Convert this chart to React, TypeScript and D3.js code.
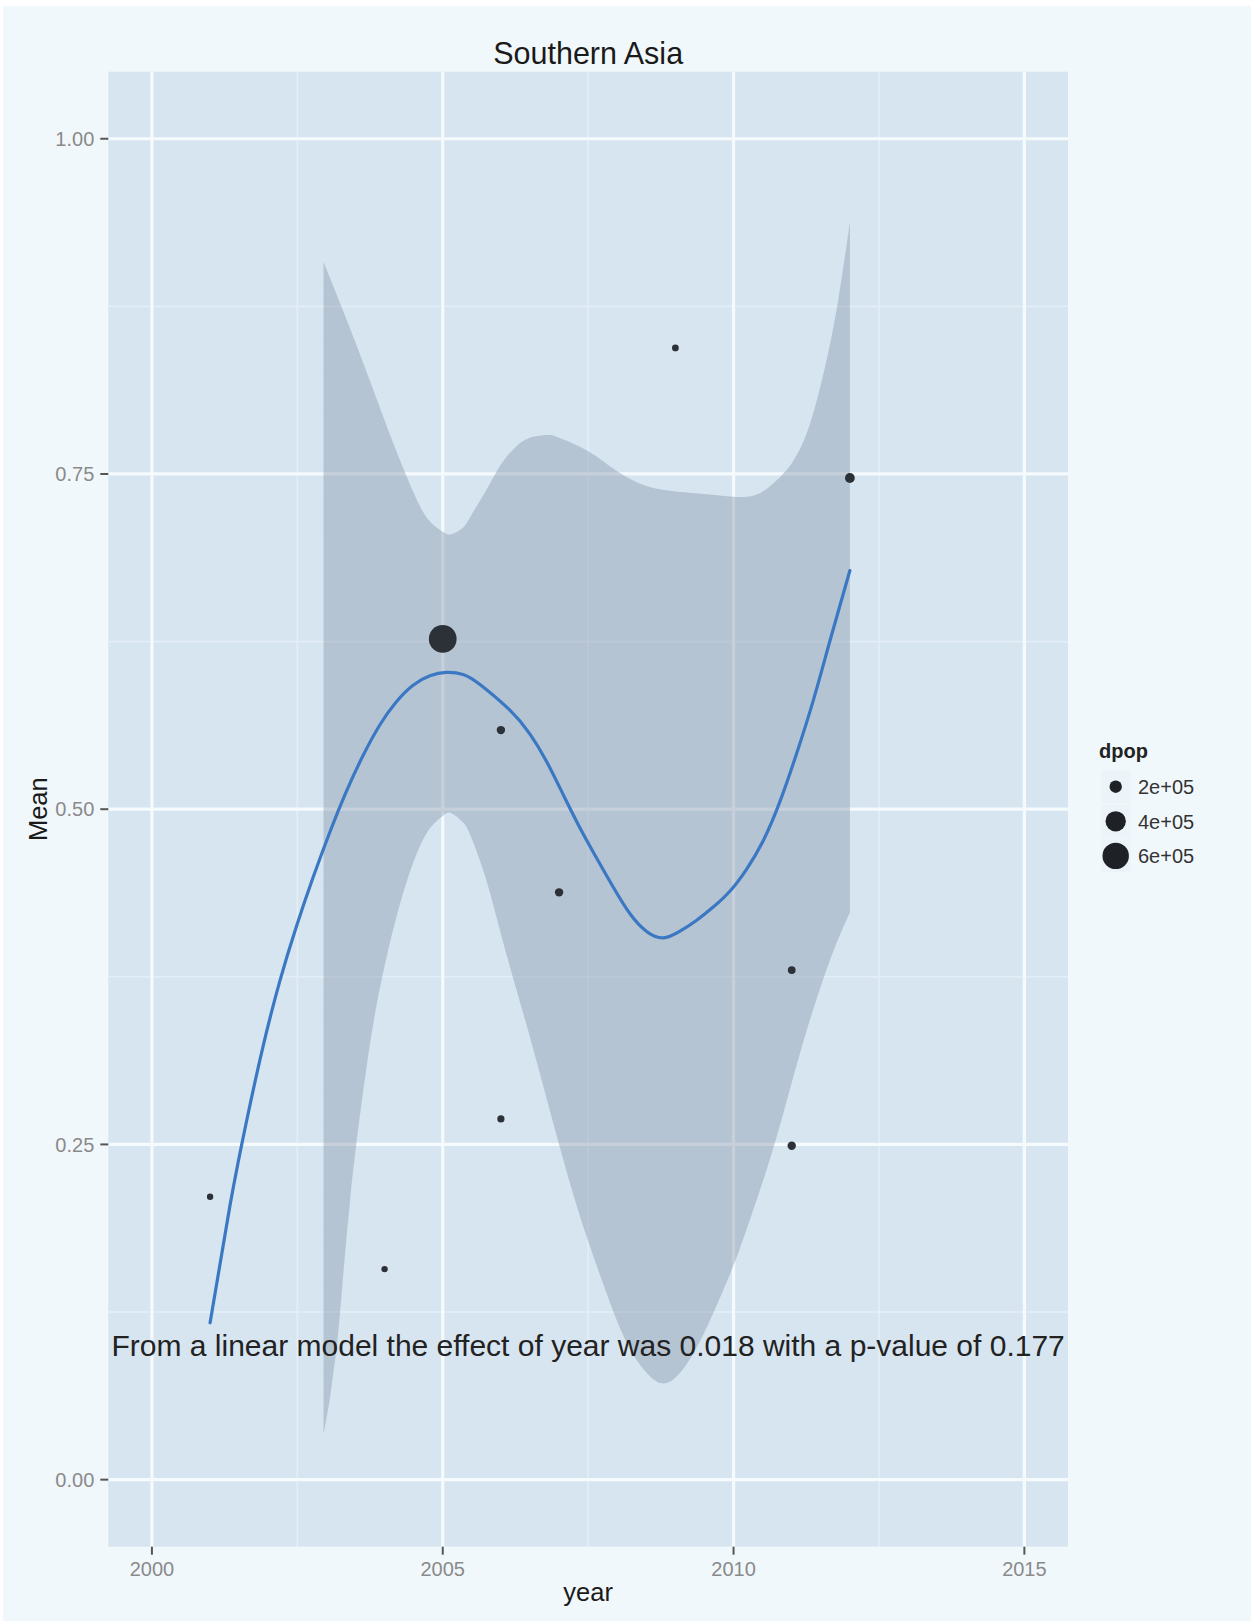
import React from 'react';
import * as d3 from 'd3';

// observed points
const POINT_YEAR = [2001, 2004, 2005, 2006, 2006, 2007, 2009, 2011, 2011, 2012];
const POINT_MEAN = [0.211, 0.157, 0.627, 0.559, 0.269, 0.438, 0.844, 0.380, 0.249, 0.747];
const POINT_DPOP = [0.94e5, 0.94e5, 6.5e5, 1.25e5, 1.06e5, 1.25e5, 1.0e5, 1.15e5, 1.25e5, 1.49e5];

// smoother line
const FIT_YEAR = [2001.0, 2001.34, 2001.63, 2001.91, 2002.2, 2002.48, 2002.77, 2003.06, 2003.34, 2003.63, 2003.92,
  2004.2, 2004.49, 2004.78, 2005.06, 2005.35, 2005.64, 2006.15, 2006.5, 2006.78, 2007.07, 2007.36, 2007.64,
  2007.93, 2008.22, 2008.5, 2008.79, 2009.08, 2009.36, 2009.65, 2009.94, 2010.22, 2010.51, 2010.8, 2011.08,
  2011.37, 2011.66, 2012.0];
const FIT_MEAN = [0.117, 0.204, 0.268, 0.323, 0.372, 0.412, 0.449, 0.483, 0.513, 0.54, 0.563,
  0.58, 0.5925, 0.5995, 0.602, 0.6005, 0.593, 0.574, 0.556, 0.536, 0.511, 0.486, 0.464,
  0.442, 0.422, 0.409, 0.404, 0.409, 0.417, 0.427, 0.439, 0.455, 0.4765, 0.506, 0.541,
  0.581, 0.626, 0.678];

// confidence band
const BAND_UP_YEAR = [2002.95, 2003.5, 2004.0, 2004.25, 2004.5, 2004.75, 2005.0, 2005.15, 2005.35, 2005.5, 2005.75,
  2006.0, 2006.25, 2006.5, 2006.8, 2007.0, 2007.5, 2008.0, 2008.5, 2009.0, 2009.5, 2010.0, 2010.35, 2010.6,
  2010.85, 2011.0, 2011.2, 2011.4, 2011.6, 2011.8, 2012.0];
const BAND_UP = [0.908, 0.848, 0.79, 0.762, 0.736, 0.716, 0.707, 0.705, 0.71, 0.72, 0.738,
  0.757, 0.77, 0.777, 0.779, 0.777, 0.767, 0.752, 0.741, 0.737, 0.735, 0.733, 0.734, 0.74,
  0.75, 0.758, 0.774, 0.8, 0.835, 0.88, 0.938];
const BAND_LO_YEAR = [2002.95, 2003.05, 2003.12, 2003.2, 2003.3, 2003.4, 2003.5, 2003.75, 2004.0, 2004.25, 2004.5, 2004.75,
  2005.0, 2005.15, 2005.35, 2005.5, 2005.75, 2006.0, 2006.25, 2006.5, 2006.75, 2007.0, 2007.25, 2007.5,
  2007.75, 2008.0, 2008.25, 2008.5, 2008.75, 2009.0, 2009.25, 2009.5, 2009.75, 2010.0, 2010.25, 2010.5,
  2010.75, 2011.0, 2011.25, 2011.5, 2011.75, 2012.0];
const BAND_LO = [0.034, 0.058, 0.08, 0.108, 0.158, 0.205, 0.245, 0.325, 0.383, 0.427, 0.461, 0.484,
  0.495, 0.497, 0.49, 0.478, 0.447, 0.407, 0.368, 0.33, 0.29, 0.25, 0.212, 0.178,
  0.147, 0.118, 0.095, 0.08, 0.072, 0.076, 0.09, 0.11, 0.134, 0.16, 0.19, 0.222,
  0.257, 0.296, 0.334, 0.368, 0.398, 0.423];

const X_TICKS = [2000, 2005, 2010, 2015];
const X_MINOR = [2002.5, 2007.5, 2012.5];
const Y_TICKS = [0, 0.25, 0.5, 0.75, 1.0];
const Y_MINOR = [0.125, 0.375, 0.625, 0.875];
const LEGEND_VALUES = [2e5, 4e5, 6e5];
const LEGEND_LABELS = ['2e+05', '4e+05', '6e+05'];

const TITLE = 'Southern Asia';
const NOTE = 'From a linear model the effect of year was 0.018 with a p-value of 0.177';

const W = 1251;
const H = 1621;
const FONT = '"Liberation Sans", Arial, Helvetica, sans-serif';

const panel = { left: 108.3, right: 1068, top: 71.7, bottom: 1546.7 };

export default function App() {
  const x = d3.scaleLinear().domain([1999.25, 2015.75]).range([panel.left, panel.right]);
  const y = d3.scaleLinear().domain([-0.05, 1.05]).range([panel.bottom, panel.top]);
  const size = d3.scaleLinear().domain([Math.sqrt(2e5), Math.sqrt(6e5)]).range([6.2, 13.2]);
  const r = (v: number) => size(Math.sqrt(v));

  const smooth = d3.line().curve(d3.curveNatural);
  const upper = BAND_UP_YEAR.map((yr, i) => [x(yr), y(BAND_UP[i])] as [number, number]);
  const lower = BAND_LO_YEAR.map((yr, i) => [x(yr), y(BAND_LO[i])] as [number, number]).reverse();
  const upPath = smooth(upper) || '';
  const loPath = smooth(lower) || '';
  const bandPath = upPath + 'L' + loPath.slice(1) + 'Z';

  const fitPath = smooth(FIT_YEAR.map((yr, i) => [x(yr), y(FIT_MEAN[i])] as [number, number])) || '';

  const legendX = 1115.7;
  const legendY0 = 786.7;
  const legendStep = 34.6;

  return (
    <svg width={W} height={H} style={{ position: 'absolute', left: 0, top: 0, display: 'block' }}
      fontFamily={FONT}>
      <rect x={0} y={0} width={W} height={H} fill="#ffffff" />
      <rect x={3} y={6} width={W - 3} height={H - 6} fill="#F1F8FC" />

      <rect x={panel.left} y={panel.top} width={panel.right - panel.left} height={panel.bottom - panel.top}
        fill="#D7E5F1" />

      {Y_MINOR.map(v => (
        <line key={'ym' + v} x1={panel.left} x2={panel.right} y1={y(v)} y2={y(v)} stroke="#E4EEF7" strokeWidth={1.6} />
      ))}
      {X_MINOR.map(v => (
        <line key={'xm' + v} x1={x(v)} x2={x(v)} y1={panel.top} y2={panel.bottom} stroke="#E4EEF7" strokeWidth={1.6} />
      ))}
      {Y_TICKS.map(v => (
        <line key={'yg' + v} x1={panel.left} x2={panel.right} y1={y(v)} y2={y(v)} stroke="#F5FAFD" strokeWidth={3.2} />
      ))}
      {X_TICKS.map(v => (
        <line key={'xg' + v} x1={x(v)} x2={x(v)} y1={panel.top} y2={panel.bottom} stroke="#F5FAFD" strokeWidth={3.2} />
      ))}

      <path d={bandPath} fill="#8E9DB0" fillOpacity={0.46} />
      <path d={fitPath} fill="none" stroke="#3A78C4" strokeWidth={3.2} strokeLinecap="round" />

      {POINT_YEAR.map((yr, i) => (
        <circle key={'p' + i} cx={x(yr)} cy={y(POINT_MEAN[i])} r={r(POINT_DPOP[i])} fill="#2C3037" />
      ))}

      <text x={x(2007.5)} y={y(0.1)} dy="0.36em" textAnchor="middle" fontSize={30} fill="#222">{NOTE}</text>

      {/* axes */}
      {Y_TICKS.map(v => (
        <g key={'yt' + v}>
          <line x1={panel.left - 8} x2={panel.left} y1={y(v)} y2={y(v)} stroke="#555" strokeWidth={2} />
          <text x={panel.left - 14} y={y(v)} dy="0.36em" textAnchor="end" fontSize={20} fill="#8a8a8a">
            {v.toFixed(2)}
          </text>
        </g>
      ))}
      {X_TICKS.map(v => (
        <g key={'xt' + v}>
          <line x1={x(v)} x2={x(v)} y1={panel.bottom} y2={panel.bottom + 8} stroke="#555" strokeWidth={2} />
          <text x={x(v)} y={1576} textAnchor="middle" fontSize={20} fill="#8a8a8a">{v}</text>
        </g>
      ))}

      <text x={(panel.left + panel.right) / 2} y={64} textAnchor="middle" fontSize={30.5} fill="#1a1a1a">{TITLE}</text>
      <text x={(panel.left + panel.right) / 2} y={1601} textAnchor="middle" fontSize={25.5} fill="#1a1a1a">year</text>
      <text transform={`translate(47, ${(panel.top + panel.bottom) / 2}) rotate(-90)`} textAnchor="middle"
        fontSize={25.5} fill="#1a1a1a">Mean</text>

      {/* legend */}
      <text x={1099} y={758} fontSize={20} fontWeight="bold" fill="#222">dpop</text>
      {LEGEND_VALUES.map((v, i) => (
        <g key={'lg' + i}>
          <rect x={legendX - 14.5} y={legendY0 + i * legendStep - 16.5} width={29} height={33} fill="#ECF3F9" />
          <circle cx={legendX} cy={legendY0 + i * legendStep} r={r(v)} fill="#1E2126" />
          <text x={1138} y={legendY0 + i * legendStep} dy="0.36em" fontSize={20} fill="#333">{LEGEND_LABELS[i]}</text>
        </g>
      ))}
    </svg>
  );
}
